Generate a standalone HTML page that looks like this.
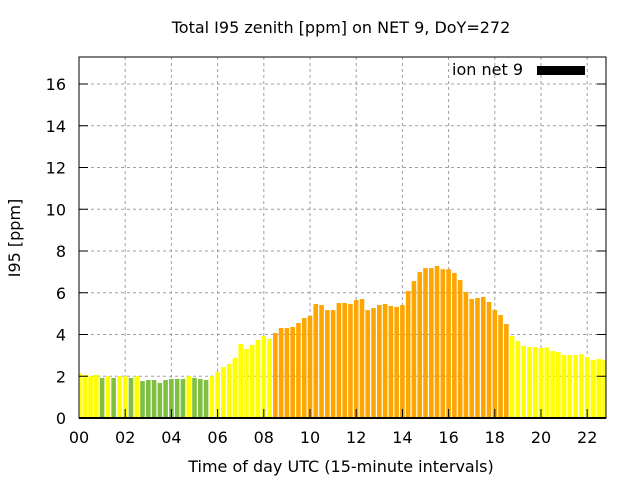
<!DOCTYPE html>
<html><head><meta charset="utf-8"><style>
body{margin:0;background:#fff;}
svg text{font-family:"DejaVu Sans","Liberation Sans",sans-serif;font-size:16px;fill:#000;}
</style></head><body>
<svg id="chart" width="640" height="480">
<text x="341" y="33" text-anchor="middle">Total I95 zenith [ppm] on NET 9, DoY=272</text>
<text transform="translate(20,238) rotate(-90)" text-anchor="middle">I95 [ppm]</text>
<text x="341" y="472" text-anchor="middle">Time of day UTC (15-minute intervals)</text>
<g id="grid"></g><g id="bars"></g><g id="axes"></g>
<g>
<text x="523" y="75" text-anchor="end">ion net 9</text>
<rect x="537" y="66" width="48" height="9" fill="#000"/>
</g>
</svg>
<script>
const values=[2.15,2.06,2.02,2.06,1.92,2.0,1.92,2.02,2.0,1.92,2.0,1.77,1.82,1.82,1.68,1.82,1.87,1.87,1.87,2.0,1.92,1.87,1.82,2.0,
2.2,2.44,2.59,2.88,3.55,3.31,3.5,3.74,3.93,3.79,
4.07,4.31,4.31,4.36,4.55,4.79,4.89,5.46,5.41,5.17,5.17,5.51,5.51,5.46,5.65,5.7,5.17,5.27,5.41,5.46,5.37,5.32,5.41,6.08,6.56,6.99,7.18,7.18,7.28,7.13,7.13,6.95,6.61,6.04,5.7,5.75,5.8,5.56,5.17,4.93,4.5,
3.93,3.69,3.45,3.4,3.4,3.35,3.38,3.21,3.16,3.02,3.02,3.02,3.06,2.92,2.78,2.83,2.78];
const yTicks=[0,2,4,6,8,10,12,14,16];
const xTickHours=[0,2,4,6,8,10,12,14,16,18,20,22];
const xTickLabels=["00","02","04","06","08","10","12","14","16","18","20","22"];
const L=79,R=606,T=57,B=418;
function ys(v){return B-v*(418-84)/16;}
function xs(h){return L+h*(541-79)/20;}
const NS="http://www.w3.org/2000/svg";
function mk(tag,attrs,parent){const e=document.createElementNS(NS,tag);for(const k in attrs)e.setAttribute(k,attrs[k]);parent.appendChild(e);return e;}
const grid=document.getElementById('grid'),bars=document.getElementById('bars'),axes=document.getElementById('axes');
yTicks.forEach(v=>{const y=ys(v);
 if(v>0){const g=mk('line',{x1:L,x2:R,y1:y,y2:y,stroke:'#a0a0a0','stroke-dasharray':'3,3'},grid);
 
 }
 const t=mk('line',{x1:L,x2:L+9,y1:y,y2:y,stroke:'#000'},axes);
 
 
 const t2=mk('line',{x1:R-9,x2:R,y1:y,y2:y,stroke:'#000'},axes);
 
 
 const l=mk('text',{x:L-13,y:y+6,'text-anchor':'end'},axes);l.textContent=v;
 
 
});
xTickHours.forEach((h,i)=>{const x=xs(h);
 if(h>0){const g=mk('line',{x1:x,x2:x,y1:T,y2:B,stroke:'#a0a0a0','stroke-dasharray':'3,3'},grid);
 
 }
 const t=mk('line',{x1:x,x2:x,y1:B-9,y2:B,stroke:'#000'},axes);
 
 
 const l=mk('text',{x:x,y:443,'text-anchor':'middle'},axes);l.textContent=xTickLabels[i];
 
 
});
values.forEach((v,i)=>{const c=xs(i*0.25);let x1=Math.max(L+1,c-2.3),x2=Math.min(R,c+2.3);
 const col=v<2?'#80c040':(v<4?'#ffff00':'#ffa500');
 const r=mk('rect',{x:x1,y:ys(v),width:x2-x1,height:B-ys(v),fill:col},bars);
 
 
});
const f=mk('rect',{x:L,y:T,width:R-L,height:B-T,fill:'none',stroke:'#000','stroke-width':1},axes);


const bl=mk('line',{x1:L,x2:R,y1:B,y2:B,stroke:'#000','stroke-width':2},axes);


</script>
</body></html>
